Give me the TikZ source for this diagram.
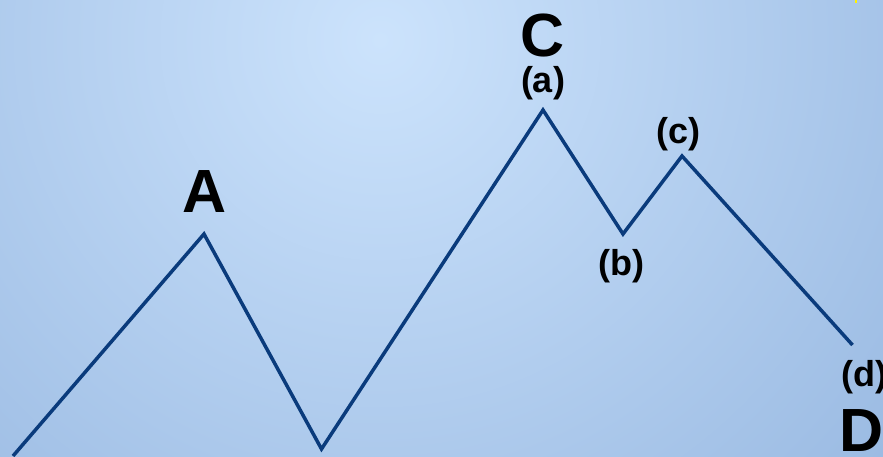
\documentclass[tikz,border=0pt]{standalone}
\usepackage{fontspec}
\setmainfont{Liberation Sans}
\definecolor{bglight}{HTML}{CCE3FC}
\definecolor{bgdark}{HTML}{8AADDA}
\definecolor{wave}{HTML}{0A3B7C}
\begin{document}
\begin{tikzpicture}[x=1pt,y=-1pt,
  big/.style={anchor=base,inner sep=0pt,font=\fontsize{61}{61}\selectfont\bfseries,text=black},
  small/.style={anchor=base,inner sep=0pt,font=\fontsize{36}{36}\selectfont\bfseries,text=black},
  waveline/.style={draw=wave,line width=3.5pt,line join=miter}]
\useasboundingbox (0,0) rectangle (883,456);
\begin{scope}
  \clip (0,0) rectangle (883,456);
  \shade[inner color=bglight,outer color=bgdark] (380,40) circle (880);
  \fill[yellow] (855,0) rectangle (857,3);
\end{scope}
% wave points
\coordinate (p0) at (13,456);
\coordinate (pA) at (204,234);
\coordinate (pT) at (321.5,449);
\coordinate (pa) at (543,110);
\coordinate (pb) at (623,234);
\coordinate (pc) at (682,156);
\coordinate (pd) at (852.5,345);
\draw[waveline] (p0) -- (pA) -- (pT) -- (pa) -- (pb) -- (pc) -- (pd);
% labels
\node[big] (lA) at (204.5,212) {A};
\node[big] (lC) at (542.5,56) {C};
\node[small] (la) at (543,92) {(a)};
\node[small] (lb) at (621.5,275) {(b)};
\node[small] (lc) at (678.5,143) {(c)};
\node[small] (ld) at (864,386) {(d)};
\node[big] (lD) at (861.5,451) {D};
\end{tikzpicture}
\end{document}
